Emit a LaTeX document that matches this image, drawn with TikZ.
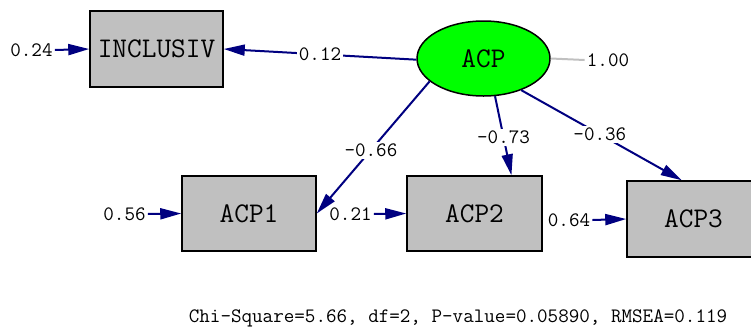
\documentclass[tikz,border=0pt]{standalone}
\usepackage{fontspec}
\usetikzlibrary{arrows.meta,shapes.geometric}
\definecolor{boxgray}{HTML}{C0C0C0}
\definecolor{pathblue}{HTML}{000080}
\definecolor{latgreen}{HTML}{00FF00}
\begin{document}
\begin{tikzpicture}[x=1pt,y=-1pt,
  obs/.style={draw=black,line width=1.5pt,fill=boxgray,rectangle,inner sep=0pt,
     font=\ttfamily\fontsize{28.5}{30}\selectfont},
  lat/.style={draw=black,line width=1.5pt,fill=latgreen,ellipse,inner sep=0pt,
     minimum width=133pt,minimum height=75pt,font=\ttfamily\fontsize{28.5}{30}\selectfont},
  lbl/.style={inner sep=2pt,font=\ttfamily\fontsize{20.5}{22}\selectfont,text=black},
  onl/.style={inner sep=2pt,fill=white,font=\ttfamily\fontsize{20.5}{22}\selectfont,text=black},
  path/.style={draw=pathblue,line width=2pt,-{Triangle[length=21pt,width=11pt]}},
  errl/.style={draw=boxgray,line width=2pt}]
\useasboundingbox (0,0) rectangle (751,327);
% nodes
\node[obs,minimum width=133pt,minimum height=76pt] (INCL) at (156.5,49) {INCLUSIV};
\node[lat] (ACP) at (483.5,58.5) {ACP};
\node[obs,minimum width=134pt,minimum height=75pt] (ACP1) at (249,213.5) {ACP1};
\node[obs,minimum width=135pt,minimum height=75pt] (ACP2) at (474.5,213.5) {ACP2};
\node[obs,minimum width=133pt,minimum height=76pt] (ACP3) at (693.5,219) {ACP3};
% error labels
\node[lbl] (e0) at (31.5,50) {0.24};
\node[lbl] (e1) at (124.5,214) {0.56};
\node[lbl] (e2) at (350.5,214) {0.21};
\node[lbl] (e3) at (569,220) {0.64};
\node[lbl] (eA) at (608,60) {1.00};
% error arrows
\draw[path] (e0.east) -- (INCL.west);
\draw[path] (e1.east) -- (ACP1.west);
\draw[path] (e2.east) -- (ACP2.west);
\draw[path] (e3.east) -- (ACP3.west);
\draw[errl] (ACP.east) -- (eA.west);
% loadings
\draw[path] (ACP.181) -- node[onl,pos=0.5] {0.12} (INCL.east);
\draw[path] (ACP.203) -- node[onl,pos=0.52] {-0.66} (ACP1.east);
\draw[path] (ACP.287) -- node[onl,pos=0.52] {-0.73} (ACP2.46);
\draw[path] (ACP.320) -- node[onl,pos=0.49] {-0.36} (ACP3.107);
% fit statistics
\node[lbl] (fit) at (458,318) {Chi-Square=5.66, df=2, P-value=0.05890, RMSEA=0.119};
\end{tikzpicture}
\end{document}
